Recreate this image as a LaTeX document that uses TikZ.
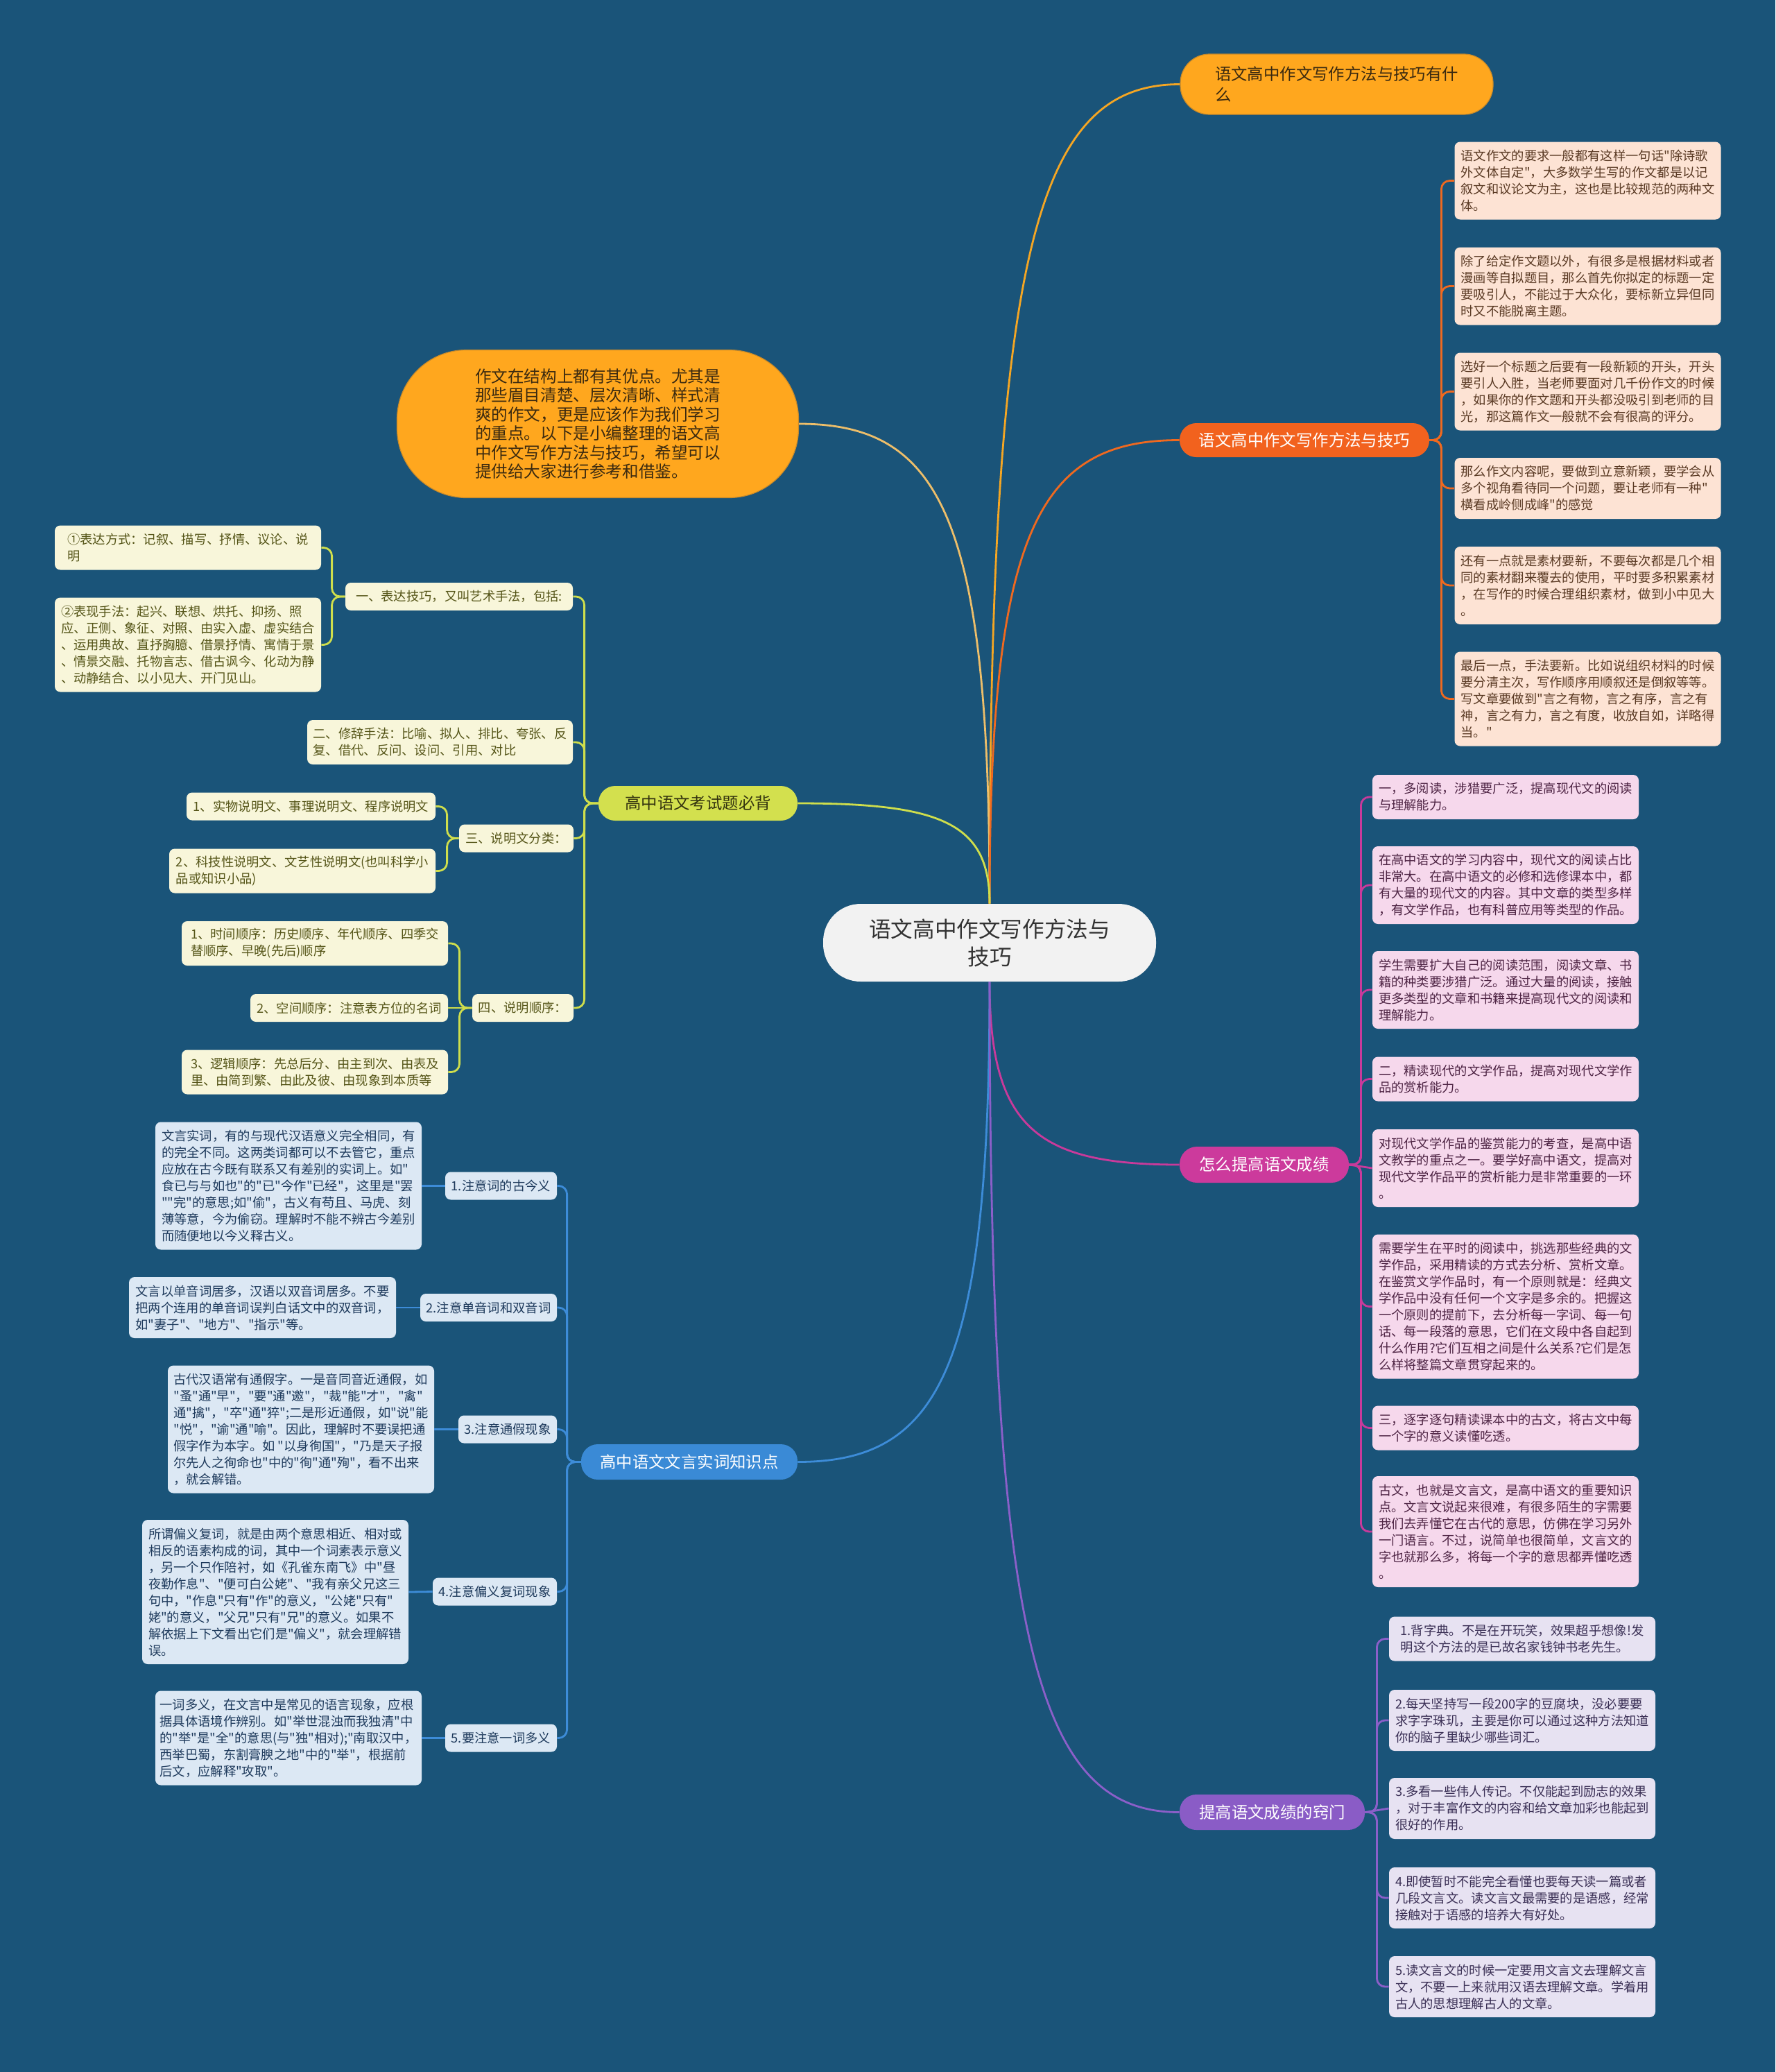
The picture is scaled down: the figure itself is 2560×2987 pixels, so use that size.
\documentclass[tikz,border=0pt]{standalone}
\usepackage{fontspec}
\newfontfamily\cjk{Noto Sans CJK SC}
\definecolor{bgc}{HTML}{1A5479}
\definecolor{ctrfill}{HTML}{F2F2F2}
\definecolor{ctrtext}{HTML}{333333}
\definecolor{orfill}{HTML}{FFA71E}
\definecolor{ordraw}{HTML}{C88A2A}
\definecolor{ortext}{HTML}{3B2A10}
\definecolor{rdfill}{HTML}{F2621E}
\definecolor{ygfill}{HTML}{D3E04E}
\definecolor{ygtext}{HTML}{33330F}
\definecolor{blfill}{HTML}{3A8AD6}
\definecolor{mgfill}{HTML}{CC3A9C}
\definecolor{ppfill}{HTML}{8A5CC6}
\definecolor{peachfill}{HTML}{FDE3D4}
\definecolor{peachtext}{HTML}{5A3A24}
\definecolor{pinkfill}{HTML}{F6D8EC}
\definecolor{pinktext}{HTML}{4E2444}
\definecolor{lavfill}{HTML}{E7E2F2}
\definecolor{lavtext}{HTML}{3A2F55}
\definecolor{creamfill}{HTML}{F8F6DA}
\definecolor{creamtext}{HTML}{555518}
\definecolor{lbfill}{HTML}{DCE8F4}
\definecolor{lbtext}{HTML}{1E3A5C}
\definecolor{lnor}{HTML}{F5A623}
\definecolor{lntan}{HTML}{EDBE6A}
\definecolor{lnrd}{HTML}{F0691F}
\definecolor{lnyg}{HTML}{CFDE4C}
\definecolor{lnmg}{HTML}{C93A9B}
\definecolor{lnbl}{HTML}{3D8CD8}
\definecolor{lnpp}{HTML}{8B5FC9}
\begin{document}
\begin{tikzpicture}[x=0.5pt,y=-0.5pt,
  every node/.style={inner sep=0pt},
  sm/.style={font=\cjk\fontsize{9.15}{12}\selectfont, align=left, rounded corners=4pt},
  h1/.style={minimum height=20pt},
  h2/.style={minimum height=32pt},
  h3/.style={minimum height=44pt},
  h4/.style={minimum height=56pt},
  h5/.style={minimum height=68pt},
  h6/.style={minimum height=80pt},
  h7/.style={minimum height=92pt},
  h8/.style={minimum height=104pt},
  wd/.style={minimum width=192pt},
  peachbox/.style={sm,wd,fill=peachfill,text=peachtext},
  pinkbox/.style={sm,wd,fill=pinkfill,text=pinktext},
  lavbox/.style={sm,wd,fill=lavfill,text=lavtext},
  creambox/.style={sm,fill=creamfill,text=creamtext},
  lbbox/.style={sm,fill=lbfill,text=lbtext},
  br/.style={font=\cjk\fontsize{11.7}{15}\selectfont, align=left},
  ln/.style={line width=1.4pt, rounded corners=6pt},
]
\fill[bgc] (0,0) rectangle (2560,2987);
\useasboundingbox (0,0) rectangle (2560,2987);

% ---------- centre and main branches ----------
\node[fill=ctrfill, text=ctrtext, rounded corners=27pt, minimum width=240pt, minimum height=56pt, align=center, font=\cjk\fontsize{15.8}{20}\selectfont] (ctr) at (1427,1359) {语文高中作文写作方法与\\技巧};

\node[br, fill=orfill, draw=ordraw, line width=0.6pt, text=ortext, rounded corners=21pt, minimum width=225.5pt, minimum height=43.5pt] (b1) at (1927.5,121.5) {语文高中作文写作方法与技巧有什\\么};

\node[font=\cjk\fontsize{11.8}{13.75}\selectfont, align=left, fill=orfill, draw=ordraw, line width=0.6pt, text=ortext, rounded corners=50pt, minimum width=289.5pt, minimum height=106.5pt] (intro) at (862,611) {作文在结构上都有其优点。尤其是\\那些眉目清楚、层次清晰、样式清\\爽的作文，更是应该作为我们学习\\的重点。以下是小编整理的语文高\\中作文写作方法与技巧，希望可以\\提供给大家进行参考和借鉴。};

\node[br, fill=rdfill, text=white, rounded corners=12pt, minimum width=180pt, minimum height=24.5pt] (b3) at (1881,634.5) {语文高中作文写作方法与技巧};
\node[br, fill=ygfill, text=ygtext, rounded corners=12pt, minimum width=143.5pt, minimum height=25pt] (b4) at (1006.5,1158) {高中语文考试题必背};
\node[br, fill=blfill, text=white, rounded corners=12pt, minimum width=156pt, minimum height=25.5pt] (b5) at (994,2107.5) {高中语文文言实词知识点};
\node[br, fill=mgfill, text=white, rounded corners=12.5pt, minimum width=122pt, minimum height=26pt] (b6) at (1823,1679) {怎么提高语文成绩};
\node[br, fill=ppfill, text=white, rounded corners=12pt, minimum width=133.5pt, minimum height=25.5pt] (b7) at (1834.5,2612.5) {提高语文成绩的窍门};

% ---------- peach leaves ----------
\node[peachbox,h4] (l1) at (2289.5,260.5) {语文作文的要求一般都有这样一句话"除诗歌\\外文体自定"，大多数学生写的作文都是以记\\叙文和议论文为主，这也是比较规范的两种文\\体。};
\node[peachbox,h4] (l2) at (2289.5,412.5) {除了给定作文题以外，有很多是根据材料或者\\漫画等自拟题目，那么首先你拟定的标题一定\\要吸引人，不能过于大众化，要标新立异但同\\时又不能脱离主题。};
\node[peachbox,h4] (l3) at (2289.5,564.5) {选好一个标题之后要有一段新颖的开头，开头\\要引人入胜，当老师要面对几千份作文的时候\\，如果你的作文题和开头都没吸引到老师的目\\光，那这篇作文一般就不会有很高的评分。};
\node[peachbox,h3] (l4) at (2289.5,704) {那么作文内容呢，要做到立意新颖，要学会从\\多个视角看待同一个问题，要让老师有一种"\\横看成岭侧成峰"的感觉};
\node[peachbox,h4] (l5) at (2289.5,844) {还有一点就是素材要新，不要每次都是几个相\\同的素材翻来覆去的使用，平时要多积累素材\\，在写作的时候合理组织素材，做到小中见大\\。};
\node[peachbox,h5] (l6) at (2289.5,1007.5) {最后一点，手法要新。比如说组织材料的时候\\要分清主次，写作顺序用顺叙还是倒叙等等。\\写文章要做到"言之有物，言之有序，言之有\\神，言之有力，言之有度，收放自如，详略得\\当。"};

% ---------- pink leaves ----------
\node[pinkbox,h2] (p1) at (2171,1149) {一，多阅读，涉猎要广泛，提高现代文的阅读\\与理解能力。};
\node[pinkbox,h4] (p2) at (2171,1276) {在高中语文的学习内容中，现代文的阅读占比\\非常大。在高中语文的必修和选修课本中，都\\有大量的现代文的内容。其中文章的类型多样\\，有文学作品，也有科普应用等类型的作品。};
\node[pinkbox,h4] (p3) at (2171,1427) {学生需要扩大自己的阅读范围，阅读文章、书\\籍的种类要涉猎广泛。通过大量的阅读，接触\\更多类型的文章和书籍来提高现代文的阅读和\\理解能力。};
\node[pinkbox,h2] (p4) at (2171,1555.5) {二，精读现代的文学作品，提高对现代文学作\\品的赏析能力。};
\node[pinkbox,h4] (p5) at (2171,1684) {对现代文学作品的鉴赏能力的考查，是高中语\\文教学的重点之一。要学好高中语文，提高对\\现代文学作品平的赏析能力是非常重要的一环\\。};
\node[pinkbox,h8] (p6) at (2171,1883.5) {需要学生在平时的阅读中，挑选那些经典的文\\学作品，采用精读的方式去分析、赏析文章。\\在鉴赏文学作品时，有一个原则就是：经典文\\学作品中没有任何一个文字是多余的。把握这\\一个原则的提前下，去分析每一字词、每一句\\话、每一段落的意思，它们在文段中各自起到\\什么作用?它们互相之间是什么关系?它们是怎\\么样将整篇文章贯穿起来的。};
\node[pinkbox,h2] (p7) at (2171,2058.5) {三，逐字逐句精读课本中的古文，将古文中每\\一个字的意义读懂吃透。};
\node[pinkbox,h6] (p8) at (2171,2208) {古文，也就是文言文，是高中语文的重要知识\\点。文言文说起来很难，有很多陌生的字需要\\我们去弄懂它在古代的意思，仿佛在学习另外\\一门语言。不过，说简单也很简单，文言文的\\字也就那么多，将每一个字的意思都弄懂吃透\\。};

% ---------- lavender leaves ----------
\node[lavbox,h2] (v1) at (2195,2362.5) {1.背字典。不是在开玩笑，效果超乎想像!发\\明这个方法的是已故名家钱钟书老先生。};
\node[lavbox,h3] (v2) at (2195,2480) {2.每天坚持写一段200字的豆腐块，没必要要\\求字字珠玑，主要是你可以通过这种方法知道\\你的脑子里缺少哪些词汇。};
\node[lavbox,h3] (v3) at (2195,2607) {3.多看一些伟人传记。不仅能起到励志的效果\\，对于丰富作文的内容和给文章加彩也能起到\\很好的作用。};
\node[lavbox,h3] (v4) at (2195,2736) {4.即使暂时不能完全看懂也要每天读一篇或者\\几段文言文。读文言文最需要的是语感，经常\\接触对于语感的培养大有好处。};
\node[lavbox,h3] (v5) at (2195,2864) {5.读文言文的时候一定要用文言文去理解文言\\文，不要一上来就用汉语去理解文章。学着用\\古人的思想理解古人的文章。};

% ---------- cream subtree ----------
\node[creambox,h1,minimum width=164pt] (m1) at (662,860) {一、表达技巧，又叫艺术手法，包括:};
\node[creambox,h2,minimum width=192pt] (c1) at (271,789.5) {①表达方式：记叙、描写、抒情、议论、说\\明};
\node[creambox,h5,minimum width=192pt] (c2) at (271,929.5) {②表现手法：起兴、联想、烘托、抑扬、照\\应、正侧、象征、对照、由实入虚、虚实结合\\、运用典故、直抒胸臆、借景抒情、寓情于景\\、情景交融、托物言志、借古讽今、化动为静\\、动静结合、以小见大、开门见山。};
\node[creambox,h2,minimum width=191.5pt] (m2) at (634.5,1070) {二、修辞手法：比喻、拟人、排比、夸张、反\\复、借代、反问、设问、引用、对比};
\node[creambox,h1,minimum width=82.5pt] (m3) at (744.5,1208.5) {三、说明文分类：};
\node[creambox,h1,minimum width=179.5pt] (c3) at (448.5,1162.5) {1、实物说明文、事理说明文、程序说明文};
\node[creambox,h2,minimum width=192pt] (c4) at (436,1255.5) {2、科技性说明文、文艺性说明文(也叫科学小\\品或知识小品)};
\node[creambox,h1,minimum width=73pt] (m4) at (754,1453) {四、说明顺序：};
\node[creambox,h2,minimum width=192pt] (c5) at (454,1360) {1、时间顺序：历史顺序、年代顺序、四季交\\替顺序、早晚(先后)顺序};
\node[creambox,h1,minimum width=142.5pt] (c6) at (503.5,1453) {2、空间顺序：注意表方位的名词};
\node[creambox,h2,minimum width=192pt] (c7) at (454,1545.5) {3、逻辑顺序：先总后分、由主到次、由表及\\里、由简到繁、由此及彼、由现象到本质等};

% ---------- light-blue subtree ----------
\node[lbbox,h1,minimum width=80.5pt] (bl1) at (722.5,1709.5) {1.注意词的古今义};
\node[lbbox,h1,minimum width=98.5pt] (bl2) at (704.5,1885) {2.注意单音词和双音词};
\node[lbbox,h1,minimum width=71pt] (bl3) at (732,2060.5) {3.注意通假现象};
\node[lbbox,h1,minimum width=89.5pt] (bl4) at (713.5,2294.5) {4.注意偏义复词现象};
\node[lbbox,h1,minimum width=80.5pt] (bl5) at (722.5,2505.5) {5.要注意一词多义};

\node[lbbox,h7,minimum width=192pt] (bf1) at (416,1709.5) {文言实词，有的与现代汉语意义完全相同，有\\的完全不同。这两类词都可以不去管它，重点\\应放在古今既有联系又有差别的实词上。如"\\食已与与如也"的"已"今作"已经"，这里是"罢\\""完"的意思;如"偷"，古义有苟且、马虎、刻\\薄等意，今为偷窃。理解时不能不辨古今差别\\而随便地以今义释古义。};
\node[lbbox,h3,minimum width=192.5pt] (bf2) at (378.5,1885) {文言以单音词居多，汉语以双音词居多。不要\\把两个连用的单音词误判白话文中的双音词，\\如"妻子"、"地方"、"指示"等。};
\node[lbbox,h7,minimum width=192pt] (bf3) at (434,2060.5) {古代汉语常有通假字。一是音同音近通假，如\\"蚤"通"早"，"要"通"邀"，"裁"能"才"，"禽"\\通"擒"，"卒"通"猝";二是形近通假，如"说"能\\"悦"，"谕"通"喻"。因此，理解时不要误把通\\假字作为本字。如 "以身徇国"，"乃是天子报\\尔先人之徇命也"中的"徇"通"殉"，看不出来\\，就会解错。};
\node[lbbox,h8,minimum width=192pt] (bf4) at (397,2295) {所谓偏义复词，就是由两个意思相近、相对或\\相反的语素构成的词，其中一个词素表示意义\\，另一个只作陪衬，如《孔雀东南飞》中"昼\\夜勤作息"、"便可白公姥"、"我有亲父兄这三\\句中，"作息"只有"作"的意义，"公姥"只有"\\姥"的意义，"父兄"只有"兄"的意义。如果不\\解依据上下文看出它们是"偏义"，就会理解错\\误。};
\node[lbbox,h5,minimum width=192pt] (bf5) at (416,2505.5) {一词多义，在文言中是常见的语言现象，应根\\据具体语境作辨别。如"举世混浊而我独清"中\\的"举"是"全"的意思(与"独"相对);"南取汉中，\\西举巴蜀，东割膏腴之地"中的"举"，根据前\\后文，应解释"攻取"。};

% ---------- main connectors ----------
\draw[ln, lnor] (ctr.north) .. controls (1427,358) and (1495.5,121.5) .. (b1.west);
\draw[ln, lntan] (ctr.north) .. controls (1427,749) and (1358,611) .. (intro.east);
\draw[ln, lnrd] (ctr.north) .. controls (1427,768) and (1495.5,634.5) .. (b3.west);
\draw[ln, lnyg] (ctr.north) .. controls (1427,1187) and (1358,1158) .. (b4.east);
\draw[ln, lnmg] (ctr.south) .. controls (1427,1626) and (1495.5,1679) .. (b6.west);
\draw[ln, lnbl] (ctr.south) .. controls (1427,1969) and (1358,2107.5) .. (b5.east);
\draw[ln, lnpp] (ctr.south) .. controls (1427,2373) and (1495.5,2612.5) .. (b7.west);

% ---------- sub connectors ----------
\foreach \n in {l1,l2,l3,l4,l5,l6} \draw[ln, lnrd] (b3.east) -- ++(17,0) |- (\n.west);
\foreach \n in {p1,p2,p3,p4,p6,p7,p8} \draw[ln, lnmg] (b6.east) -- ++(17,0) |- (\n.west);
\draw[ln, lnmg] (b6.east) -- (p5.west);
\foreach \n in {v1,v2,v4,v5} \draw[ln, lnpp] (b7.east) -- ++(17,0) |- (\n.west);
\draw[ln, lnpp] (b7.east) -- (v3.west);

\foreach \n in {m1,m2,m3,m4} \draw[ln, lnyg] (b4.west) -- ++(-20,0) |- (\n.east);
\foreach \n in {c1,c2} \draw[ln, lnyg] (m1.west) -- ++(-19,0) |- (\n.east);
\foreach \n in {c3,c4} \draw[ln, lnyg] (m3.west) -- ++(-17,0) |- (\n.east);
\foreach \n in {c5,c7} \draw[ln, lnyg] (m4.west) -- ++(-18,0) |- (\n.east);
\draw[ln, lnyg] (m4.west) -- (c6.east);

\foreach \n in {bl1,bl2,bl3,bl4,bl5} \draw[ln, lnbl] (b5.west) -- ++(-20,0) |- (\n.east);
\foreach \n in {1,2,3,4,5} \draw[ln, lnbl] (bl\n.west) -- (bf\n.east);
\end{tikzpicture}
\end{document}
